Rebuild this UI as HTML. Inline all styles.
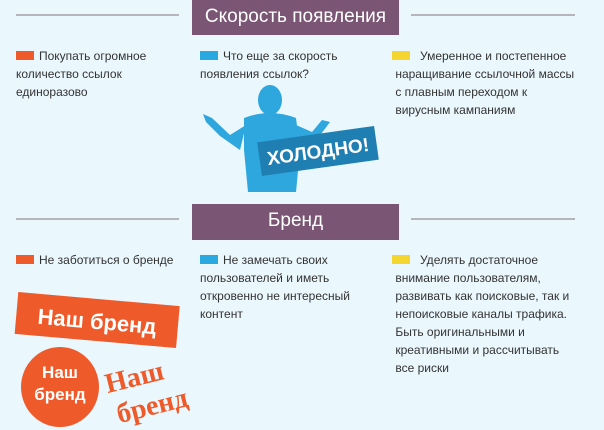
<!DOCTYPE html>
<html><head><meta charset="utf-8"><style>
body{margin:0;width:604px;height:430px;background:#eaf7fd;position:relative;overflow:hidden;font-family:"Liberation Sans","DejaVu Sans",sans-serif;}
.hl{position:absolute;height:2px;background:#b4b6bb;}
.hd{position:absolute;background:#7b5574;color:#fff;text-align:center;font-size:19px;}
.t{position:absolute;font-size:12px;line-height:18px;color:#333;}
.sq{display:inline-block;width:18px;height:9px;margin-right:5px;vertical-align:0px;}
.o{background:#ee5a2a}.b{background:#2aa8e0}.y{background:#f5d630}
.ab{position:absolute;}
</style></head><body>
<div class="hl" style="left:16px;top:14px;width:163px"></div>
<div class="hl" style="left:411px;top:14px;width:164px"></div>
<div class="hd" style="left:192px;top:0;width:207px;height:35px;line-height:33px">Скорость появления</div>
<div class="t" style="left:16px;top:47px;width:170px"><span class="sq o"></span>Покупать огромное<br>количество ссылок<br>единоразово</div>
<div class="t" style="left:200px;top:47px;width:180px"><span class="sq b"></span>Что еще за скорость<br>появления ссылок?</div>
<div class="t" style="left:392px;top:47px;width:200px"><span class="sq y" style="margin-right:10px"></span>Умеренное и постепенное<br>&nbsp;наращивание ссылочной массы<br>&nbsp;с плавным переходом к<br>&nbsp;вирусным кампаниям</div>
<svg class="ab" style="left:0;top:0" width="604" height="430">
<g fill="#2ea6de">
<ellipse cx="270" cy="100" rx="12" ry="15"/>
<path d="M244 118 Q270 108 296 118 L300 150 L296 192 L248 192 L244 150 Z"/>
<path d="M246 125 L230 135 L212 118 L203 114 L206 122 L220 136 L240 150 Z"/>
<path d="M296 125 L312 132 L322 120 L330 122 L318 138 L300 150 Z"/>
</g>
<g transform="translate(318,151) rotate(-8)">
<rect x="-59" y="-17" width="118" height="34" fill="#1f7fb2"/>
<text x="0" y="7" text-anchor="middle" fill="#fff" font-size="19" font-weight="bold" font-family="Liberation Sans,sans-serif">ХОЛОДНО!</text>
</g>
<g transform="translate(97,322) rotate(5)">
<rect x="-81" y="-23" width="162" height="42" fill="#ee5a2a"/>
<text x="0" y="7" text-anchor="middle" fill="#fff" font-size="22" font-weight="bold" font-family="Liberation Sans,sans-serif">Наш бренд</text>
</g>
<ellipse cx="60" cy="387" rx="39" ry="40" fill="#ee5a2a"/>
<text x="60" y="378" text-anchor="middle" fill="#fff" font-size="17" font-weight="bold" font-family="Liberation Sans,sans-serif">Наш</text>
<text x="60" y="400" text-anchor="middle" fill="#fff" font-size="17" font-weight="bold" font-family="Liberation Sans,sans-serif">бренд</text>
<g transform="rotate(-14 145 390)" fill="#ee5a2a" font-family="Liberation Serif,serif" font-weight="bold" font-size="28">
<text x="108" y="384">Наш</text>
<text x="112" y="416">бренд</text>
</g>
</svg>
<div class="hl" style="left:16px;top:218px;width:163px"></div>
<div class="hl" style="left:411px;top:218px;width:164px"></div>
<div class="hd" style="left:192px;top:204px;width:207px;height:36px;line-height:34px">Бренд</div>
<div class="t" style="left:16px;top:251px;width:180px"><span class="sq o"></span>Не заботиться о бренде</div>
<div class="t" style="left:200px;top:251px;width:180px"><span class="sq b"></span>Не замечать своих<br>пользователей и иметь<br>откровенно не интересный<br>контент</div>
<div class="t" style="left:392px;top:251px;width:200px"><span class="sq y" style="margin-right:10px"></span>Уделять достаточное<br>&nbsp;внимание пользователям,<br>&nbsp;развивать как поисковые, так и<br>&nbsp;непоисковые каналы трафика.<br>&nbsp;Быть оригинальными и<br>&nbsp;креативными и рассчитывать<br>&nbsp;все риски</div>
</body></html>
